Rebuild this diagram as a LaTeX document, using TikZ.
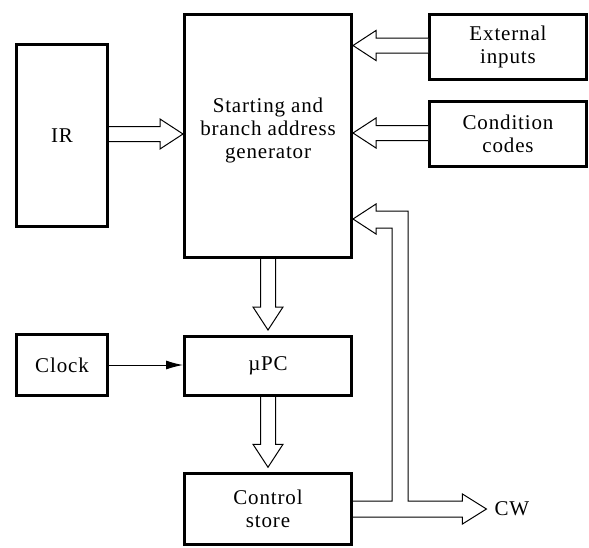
\documentclass[tikz,border=0pt]{standalone}
\usepackage{fontspec}
\setmainfont[LetterSpace=4]{Liberation Serif}
\usetikzlibrary{calc,arrows.meta}
\newcommand\bigarrow[2]{%
  \coordinate (ha) at ($(#2)!23pt!(#1)$);
  \draw[hollow] ($(#1)!7.5pt!90:(#2)$) -- ($(ha)!7.5pt!90:(#2)$) -- ($(ha)!15pt!90:(#2)$)
    -- (#2) -- ($(ha)!15pt!-90:(#2)$) -- ($(ha)!7.5pt!-90:(#2)$) -- ($(#1)!7.5pt!-90:(#2)$);
}
\begin{document}
\begin{tikzpicture}[x=1pt,y=-1pt,
  blk/.style={draw,line width=3pt,inner sep=0pt,align=center,
    font=\fontsize{21}{23}\selectfont},
  lbl/.style={align=center,inner sep=0pt,font=\fontsize{21}{23}\selectfont},
  hollow/.style={draw,line width=1pt,line join=miter,fill=white}]
\useasboundingbox (0,0) rectangle (589,547);
\node[blk,minimum width=91pt,minimum height=182pt] (ir) at (62,135.5) {IR};
\node[blk,minimum width=167pt,minimum height=243pt] (gen) at (268,136) {};
\node[lbl] (gentext) at (268,130) {Starting and\\branch address\\generator};
\node[blk,minimum width=157pt,minimum height=65.5pt] (ext) at (508,47) {External\\inputs};
\node[blk,minimum width=157pt,minimum height=65pt] (cond) at (508,134) {Condition\\codes};
\node[blk,minimum width=91pt,minimum height=61pt] (clock) at (62,365) {Clock};
\node[blk,minimum width=167pt,minimum height=59pt] (upc) at (268,366) {µPC};
\node[blk,minimum width=167pt,minimum height=70.5pt] (cs) at (268,509) {Control\\store};
\node[lbl] (cw) at (512,509) {CW};

\coordinate (irs) at ($(ir.east)+(0,-1.5)$);
\bigarrow{irs}{gen.west |- irs}
\coordinate (exs) at ($(ext.west)+(0,-1.5)$);
\bigarrow{exs}{gen.east |- exs}
\coordinate (cos) at ($(cond.west)+(0,-1)$);
\bigarrow{cos}{gen.east |- cos}
\coordinate (gt) at ($(upc.north)+(0,-5)$);
\bigarrow{gen.south}{gt}
\coordinate (ct) at ($(cs.north)+(0,-5)$);
\bigarrow{upc.south}{ct}

\draw[line width=1pt,-{Latex[length=17pt,width=9pt]}] (clock.east) -- (upc.west |- clock.east);

\coordinate (fbtip) at (gen.east |- 0,219);
\coordinate (cwtip) at ($(cw.west)+(-8,0)$);
\draw[hollow,fill=none] (cs.east |- 0,517) -- ($(cwtip)+(-24,8)$) -- ($(cwtip)+(-24,15)$) -- (cwtip)
  -- ($(cwtip)+(-24,-15)$) -- ($(cwtip)+(-24,-8)$) -- (408,501) -- (408,211)
  -- ($(fbtip)+(23,-8)$) -- ($(fbtip)+(23,-15)$) -- (fbtip) -- ($(fbtip)+(23,15)$)
  -- ($(fbtip)+(23,9)$) -- (392,228) -- (392,501) -- (cs.east |- 0,501);
\end{tikzpicture}
\end{document}
